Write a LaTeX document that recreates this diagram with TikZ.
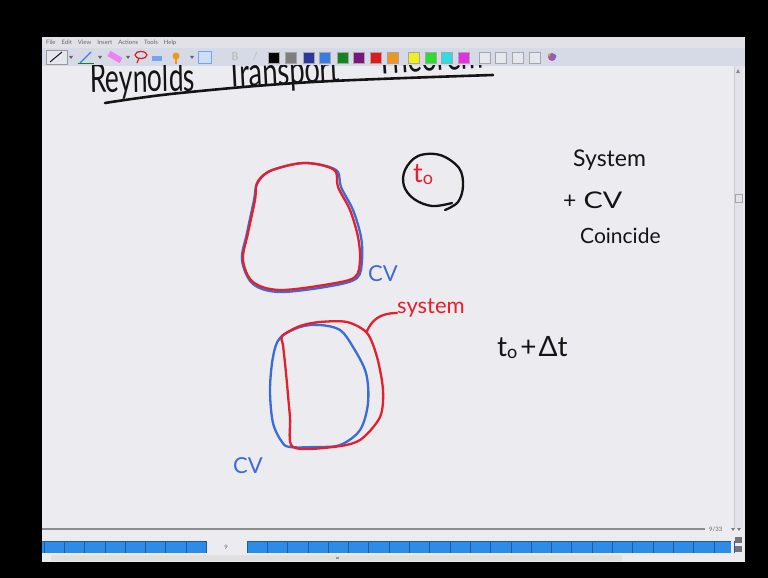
\documentclass[tikz,border=0pt]{standalone}
\usepackage{fontspec}
\setmainfont{Lato}
\usepackage{graphicx}
\definecolor{canvas}{HTML}{ECEBF0}
\definecolor{inkred}{HTML}{E3202B}
\definecolor{inkblue}{HTML}{3B6BD6}
\definecolor{ink}{HTML}{141414}
\definecolor{menubg}{HTML}{E2E2E6}
\definecolor{toolbg}{HTML}{D6DAE6}
\definecolor{tabblue}{HTML}{2E8BE6}
\definecolor{tabline}{HTML}{1B5CA6}
\definecolor{scrollbg}{HTML}{E3E2E8}
\definecolor{swgray}{HTML}{7F7F7F}
\definecolor{swdkblue}{HTML}{2B3A9A}
\definecolor{swblue}{HTML}{3B7BE8}
\definecolor{swgreen}{HTML}{14851E}
\definecolor{swpurple}{HTML}{7A1480}
\definecolor{swred}{HTML}{E01A1A}
\definecolor{sworange}{HTML}{F0961E}
\definecolor{swyellow}{HTML}{F2EE1E}
\definecolor{swlgreen}{HTML}{2EDC2E}
\definecolor{swcyan}{HTML}{2EDCE6}
\definecolor{swmagenta}{HTML}{E62EE6}
\definecolor{swblank}{HTML}{E4E7EE}
\begin{document}
\begin{tikzpicture}[x=1pt,y=-1pt,
  redink/.style={draw=inkred,line width=2.3pt,line cap=round,line join=round},
  blueink/.style={draw=inkblue,line width=2.3pt,line cap=round,line join=round},
  blackink/.style={draw=ink,line width=2.3pt,line cap=round,line join=round},
  hand/.style={inner sep=0pt,anchor=base west,font=\fontsize{21}{21}\selectfont},
  titletext/.style={anchor=base west,inner sep=0pt,text=ink,font=\fontsize{40}{40}\selectfont},
  swatch/.style={minimum width=11pt,minimum height=11pt,inner sep=0pt,draw=black!35,line width=0.4pt,anchor=north west},
  tiny/.style={inner sep=0pt,font=\fontsize{6}{6}\selectfont,text=black!60}
]
\useasboundingbox (0,0) rectangle (768,578);
% window frame
\fill[black] (0,0) rectangle (768,578);
\fill[menubg] (42,37) rectangle (745,48);
\fill[toolbg] (42,48) rectangle (745,66);
\fill[canvas] (42,66) rectangle (745,562);
\fill[scrollbg] (734,66) rectangle (743,528);
\draw[black!20,line width=0.5pt] (734,66) -- (734,528);
\fill[black!45] (736,73) -- (740,73) -- (738,69) -- cycle;
\draw[black!35,fill=scrollbg,line width=0.5pt] (735,194) rectangle (742,202);
% menu bar
\node[tiny,anchor=west] (menu) at (46,42.5) {File\hspace{6pt}Edit\hspace{6pt}View\hspace{6pt}Insert\hspace{6pt}Actions\hspace{6pt}Tools\hspace{6pt}Help};
% toolbar icons
\draw[black!40,fill=swblank,line width=0.5pt] (46,50) rectangle (67,64);
\draw[ink,line width=1pt] (50,62) -- (62,52);
\fill[black!60] (69,56) -- (73,56) -- (71,59) -- cycle;
\draw[swblue,line width=1.2pt] (80,63) -- (91,52);
\draw[swgreen,line width=1pt] (78,64) -- (94,64);
\fill[black!60] (98,56) -- (102,56) -- (100,59) -- cycle;
\fill[swmagenta!60!white,rotate around={-30:(115,57)}] (108,54) rectangle (122,60);
\fill[black!60] (126,56) -- (130,56) -- (128,59) -- cycle;
\draw[swred,line width=1.2pt] (141,55) ellipse (6pt and 3.5pt);
\draw[swred,line width=1.2pt] (139,58) -- (137,63);
\fill[swblue!70] (152,56) rectangle (162,61);
\fill[sworange] (176,56) circle (3.5pt);
\draw[sworange,line width=1.5pt] (176,59) -- (176,64);
\fill[black!60] (190,56) -- (194,56) -- (192,59) -- cycle;
\draw[swblue!70,fill=swblue!25,line width=0.8pt] (198,51) rectangle (211,63);
\node[inner sep=0pt,font=\fontsize{11}{11}\bfseries\selectfont,text=black!25] (bold) at (235,57) {B};
\node[inner sep=0pt,font=\fontsize{11}{11}\selectfont,text=black!25] (ital) at (255,57) {/};
\foreach \xx/\cc [count=\i] in {268/black,285/swgray,303/swdkblue,319/swblue,337/swgreen,353/swpurple,370/swred,387/sworange,408/swyellow,425/swlgreen,441/swcyan,458/swmagenta,479/swblank,495/swblank,512/swblank,529/swblank}
  \node[swatch,fill=\cc] (sw\i) at (\xx,52) {};
\fill[swpurple!70] (552,57) circle (4pt);
\fill[sworange] (549,55) circle (1.5pt);
\fill[swblue] (555,56) circle (1.5pt);
% bottom area
\draw[black!45,line width=1.5pt] (42,529) -- (705,529);
\node[tiny,anchor=west] (page) at (709,529) {9/33};
\fill[black!50] (731,528) -- (735,528) -- (733,531) -- cycle;
\fill[black!50] (737,528) -- (741,528) -- (739,531) -- cycle;
\fill[tabblue] (42,541) rectangle (206,553);
\fill[tabblue] (247,541) rectangle (731,553);
\foreach \t in {0,...,8} \draw[tabline,line width=0.8pt] (44+20.3*\t,541) -- (44+20.3*\t,553);
\foreach \t in {0,...,24} \draw[tabline,line width=0.8pt] (247+20.3*\t,541) -- (247+20.3*\t,553);
\draw[tabline,line width=0.8pt] (42,541) -- (206,541) (247,541) -- (731,541);
\node[tiny] (cur) at (226,547) {9};
\fill[black!55] (735,537) rectangle (742,543);
\fill[black!55] (735,546) rectangle (742,552);
\fill[black!12] (51,555) rectangle (622,561);
\fill[black!40] (336,557) rectangle (339,559);
% title (partly hidden under the toolbar)
\begin{scope}
\clip (42,66) rectangle (733,528);
\node[titletext,rotate=1] (title1) at (90,93) {\smash{\scalebox{0.66}[1]{Reynolds}}};
\node[titletext,rotate=3] (title2) at (227,88) {\smash{\scalebox{0.68}[1]{Transport}}};
\node[titletext,rotate=4] (title3) at (377,75) {\smash{\scalebox{0.68}[1]{Theorem}}};
\end{scope}
\draw[blackink,line width=2.6pt] plot[smooth,tension=0.6] coordinates {(105,103) (180,93) (313,82) (493,75)};
% top shapes: CV (blue) and system (red) coincide
\draw[blueink] plot[smooth cycle,tension=0.55] coordinates {(257,184) (268,172) (290,165) (307,163) (326,166) (338,172) (341,187) (353,210) (361,237) (362,260) (357,278) (331,286) (280,292) (253,284) (242,260) (247,233) (254,200)};
\draw[redink] plot[smooth cycle,tension=0.55] coordinates {(257,183) (268,172) (290,165) (307,163) (325,166) (336,172) (338,187) (350,210) (358,237) (360,260) (355,277) (330,284) (280,290) (253,282) (243,260) (248,233) (255,200)};
\node[hand,text=inkblue,font=\fontsize{22}{22}\selectfont] (cv1) at (368,281) {CV};
% t0 circled
\node[hand,text=inkred,font=\fontsize{27}{27}\selectfont] (t0) at (413,182) {t\raisebox{-2pt}{\fontsize{18}{18}\selectfont o}};
\draw[blackink] plot[smooth,tension=0.6] coordinates {(445,210) (458,202) (463,186) (459,168) (440,155) (418,156) (405,170) (404,186) (414,199) (432,206) (452,203)};
% right notes
\node[hand,text=ink,font=\fontsize{23}{23}\selectfont] (sys) at (573,166) {System};
\node[hand,text=ink,font=\fontsize{23}{23}\selectfont] (pluscv) at (563,208) {+\hspace{7pt}\scalebox{1.25}[1]{CV}};
\node[hand,text=ink] (coin) at (580,243) {Coincide};
\node[hand,text=ink,font=\fontsize{28}{28}\selectfont] (tdt) at (497,356) {t\raisebox{-2pt}{\fontsize{18}{18}\selectfont o}\hspace{3pt}+\hspace{2pt}Δt};
% bottom shapes at t0 + dt
\draw[blueink] plot[smooth cycle,tension=0.55] coordinates {(280,338) (300,327) (320,325) (340,330) (353,347) (366,373) (368,403) (360,430) (340,445) (315,447) (290,447) (282,442) (273,423) (270,390) (273,357)};
\draw[redink] plot[smooth cycle,tension=0.5] coordinates {(282,336) (300,326) (320,322) (347,322) (367,333) (377,357) (383,390) (380,417) (360,440) (333,447) (293,447) (290,417) (286,373) (283,345)};
\coordinate (lead) at (367,331);
\node[hand,text=inkred,font=\fontsize{22}{22}\selectfont] (syslbl) at (397,313) {system};
\draw[redink] (lead) .. controls (372,320) and (380,313) .. (syslbl.base west);
\node[hand,text=inkblue,font=\fontsize{22}{22}\selectfont] (cv2) at (233,473) {CV};
\end{tikzpicture}
\end{document}
